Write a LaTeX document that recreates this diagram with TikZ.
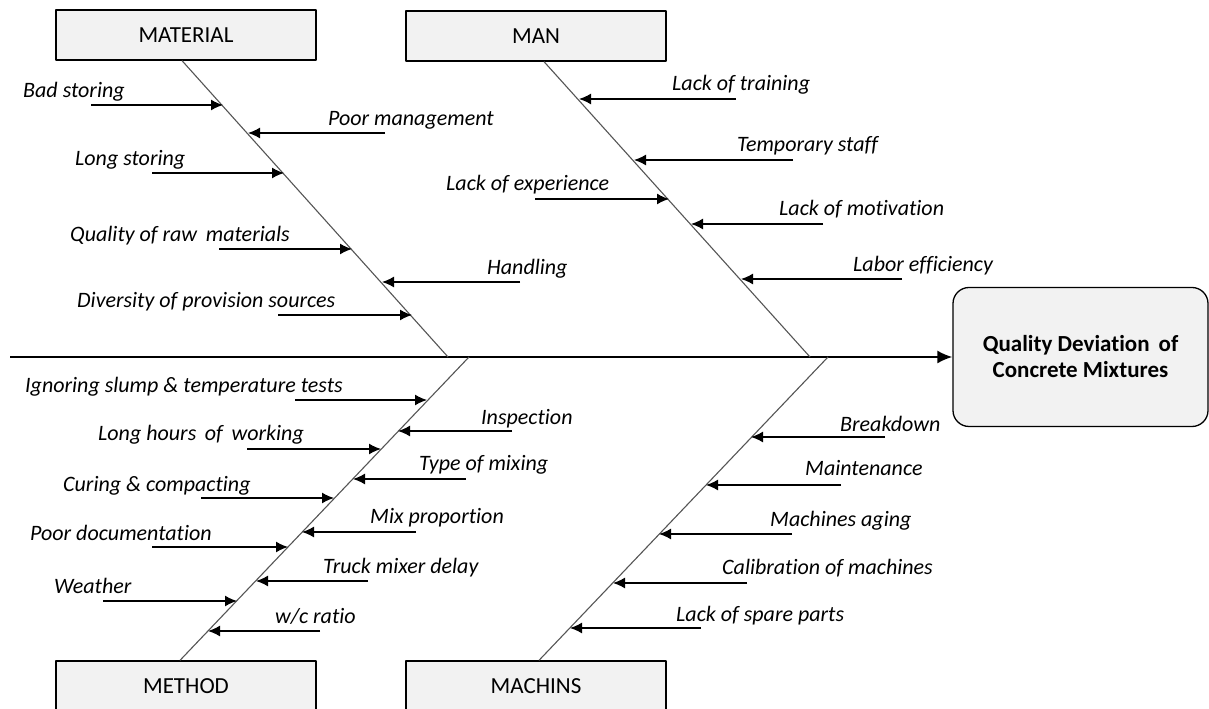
\documentclass[tikz,border=0pt]{standalone}
\usepackage[x11names, svgnames, rgb]{xcolor}
\usepackage{fontspec}
\setmainfont{Carlito}[Ligatures=NoCommon]
\usepackage{tikz}
\usetikzlibrary{arrows.meta,shapes}
\definecolor{boxgray}{RGB}{242,242,242}
\definecolor{bonegray}{RGB}{85,85,85}

\begin{document}
\begin{tikzpicture}[>={Latex[length=12bp,width=11bp]},line join=bevel,
  cat/.style={draw,fill=boxgray,line width=1.3bp,minimum width=260bp,minimum height=50bp,
    font=\fontsize{23bp}{27bp}\selectfont},
  cause/.style={anchor=base west,inner sep=0pt,font=\fontsize{22bp}{26bp}\selectfont\itshape},
  rib/.style={->,line width=1.4bp},
  bone/.style={bonegray,line width=1.1bp}]
\useasboundingbox (0bp,0bp) rectangle (1209bp,709bp);
%%
\node (material) at (186bp,674bp) [cat] {MATERIAL};
  \node (man) at (536bp,673bp) [cat] {MAN};
  \node (method) at (186bp,23bp) [cat] {METHOD};
  \node (machins) at (536bp,23bp) [cat] {MACHINS};
  \node (effect) at (1080.5bp,352bp) [draw,fill=boxgray,line width=1.3bp,rounded corners=16bp,
    minimum width=255bp,minimum height=139bp,align=center,
    font=\fontsize{23bp}{26bp}\selectfont\bfseries] {Quality Deviation\, of\\Concrete Mixtures};
  \coordinate (tail) at (10bp,352bp);
  \coordinate (matJ) at (448bp,352bp);
  \coordinate (manJ) at (810bp,352bp);
  \coordinate (metJ) at (469bp,352bp);
  \coordinate (macJ) at (828bp,352bp);
  \draw [-{Latex[length=15bp,width=13bp]},line width=1.8bp] (tail) -- (effect);
  \draw [bone] ([xshift=-4bp]material.south) -- (matJ);
  \draw [bone] ([xshift=8bp]man.south) -- (manJ);
  \draw [bone] ([xshift=-6bp]method.north) -- (metJ);
  \draw [bone] ([xshift=3bp]machins.north) -- (macJ);
%% material
  \coordinate (badStoring) at (91bp,604bp); \coordinate (badStoringT) at (223bp,604bp);
  \coordinate (poorMgmt) at (385bp,576bp); \coordinate (poorMgmtT) at (248bp,576bp);
  \coordinate (longStoring) at (152bp,536bp); \coordinate (longStoringT) at (284bp,536bp);
  \coordinate (rawQuality) at (219bp,460bp); \coordinate (rawQualityT) at (352bp,460bp);
  \coordinate (handling) at (520bp,427bp); \coordinate (handlingT) at (382bp,427bp);
  \coordinate (diversity) at (278bp,394bp); \coordinate (diversityT) at (412bp,394bp);
  \draw [rib] (badStoring) -- (badStoringT);
  \draw [rib] (poorMgmt) -- (poorMgmtT);
  \draw [rib] (longStoring) -- (longStoringT);
  \draw [rib] (rawQuality) -- (rawQualityT);
  \draw [rib] (handling) -- (handlingT);
  \draw [rib] (diversity) -- (diversityT);
  \node (badStoringL) at (23bp,611bp) [cause] {Bad storing};
  \node (poorMgmtL) at (328bp,583bp) [cause] {Poor management};
  \node (longStoringL) at (75bp,543bp) [cause] {Long storing};
  \node (rawQualityL) at (70bp,467bp) [cause] {Quality of raw\, materials};
  \node (handlingL) at (487bp,434bp) [cause] {Handling};
  \node (diversityL) at (77bp,401bp) [cause] {Diversity of provision sources};
%% man
  \coordinate (training) at (736bp,610bp); \coordinate (trainingT) at (579bp,610bp);
  \coordinate (tempStaff) at (793bp,549bp); \coordinate (tempStaffT) at (634bp,549bp);
  \coordinate (experience) at (535bp,510bp); \coordinate (experienceT) at (669bp,510bp);
  \coordinate (motivation) at (823bp,485bp); \coordinate (motivationT) at (691bp,485bp);
  \coordinate (laborEff) at (902bp,430bp); \coordinate (laborEffT) at (741bp,430bp);
  \draw [rib] (training) -- (trainingT);
  \draw [rib] (tempStaff) -- (tempStaffT);
  \draw [rib] (experience) -- (experienceT);
  \draw [rib] (motivation) -- (motivationT);
  \draw [rib] (laborEff) -- (laborEffT);
  \node (trainingL) at (672bp,618bp) [cause] {Lack of training};
  \node (tempStaffL) at (737bp,557bp) [cause] {Temporary staff};
  \node (experienceL) at (446bp,518bp) [cause] {Lack of experience};
  \node (motivationL) at (779bp,493bp) [cause] {Lack of motivation};
  \node (laborEffL) at (853bp,437bp) [cause] {Labor efficiency};
%% method
  \coordinate (slumpTests) at (295bp,309bp); \coordinate (slumpTestsT) at (427bp,309bp);
  \coordinate (inspection) at (512bp,278bp); \coordinate (inspectionT) at (398bp,278bp);
  \coordinate (longHours) at (247bp,260bp); \coordinate (longHoursT) at (381bp,260bp);
  \coordinate (mixingType) at (466bp,230bp); \coordinate (mixingTypeT) at (353bp,230bp);
  \coordinate (curing) at (201bp,211bp); \coordinate (curingT) at (334bp,211bp);
  \coordinate (mixProp) at (416bp,177bp); \coordinate (mixPropT) at (302bp,177bp);
  \coordinate (poorDoc) at (152bp,162bp); \coordinate (poorDocT) at (288bp,162bp);
  \coordinate (truckDelay) at (368bp,128bp); \coordinate (truckDelayT) at (256bp,128bp);
  \coordinate (weather) at (103bp,108bp); \coordinate (weatherT) at (237bp,108bp);
  \coordinate (wcRatio) at (320bp,78bp); \coordinate (wcRatioT) at (208bp,78bp);
  \draw [rib] (slumpTests) -- (slumpTestsT);
  \draw [rib] (inspection) -- (inspectionT);
  \draw [rib] (longHours) -- (longHoursT);
  \draw [rib] (mixingType) -- (mixingTypeT);
  \draw [rib] (curing) -- (curingT);
  \draw [rib] (mixProp) -- (mixPropT);
  \draw [rib] (poorDoc) -- (poorDocT);
  \draw [rib] (truckDelay) -- (truckDelayT);
  \draw [rib] (weather) -- (weatherT);
  \draw [rib] (wcRatio) -- (wcRatioT);
  \node (slumpTestsL) at (25bp,316bp) [cause] {Ignoring slump \& temperature tests};
  \node (inspectionL) at (481bp,284bp) [cause] {Inspection};
  \node (longHoursL) at (98bp,268bp) [cause] {Long hours\, of\, working};
  \node (mixingTypeL) at (419bp,238bp) [cause] {Type of mixing};
  \node (curingL) at (63bp,217bp) [cause] {Curing \& compacting};
  \node (mixPropL) at (370bp,185bp) [cause] {Mix proportion};
  \node (poorDocL) at (30bp,168bp) [cause] {Poor documentation};
  \node (truckDelayL) at (323bp,135bp) [cause] {Truck mixer delay};
  \node (weatherL) at (54bp,115bp) [cause] {Weather};
  \node (wcRatioL) at (275bp,85bp) [cause] {w/c ratio};
%% machins
  \coordinate (breakdown) at (885bp,272bp); \coordinate (breakdownT) at (751bp,272bp);
  \coordinate (maintenance) at (841bp,224bp); \coordinate (maintenanceT) at (706bp,224bp);
  \coordinate (aging) at (792bp,175bp); \coordinate (agingT) at (659bp,175bp);
  \coordinate (calibration) at (747bp,126bp); \coordinate (calibrationT) at (613bp,126bp);
  \coordinate (spareParts) at (701bp,81bp); \coordinate (sparePartsT) at (570bp,81bp);
  \draw [rib] (breakdown) -- (breakdownT);
  \draw [rib] (maintenance) -- (maintenanceT);
  \draw [rib] (aging) -- (agingT);
  \draw [rib] (calibration) -- (calibrationT);
  \draw [rib] (spareParts) -- (sparePartsT);
  \node (breakdownL) at (840bp,277bp) [cause] {Breakdown};
  \node (maintenanceL) at (805bp,233bp) [cause] {Maintenance};
  \node (agingL) at (770bp,182bp) [cause] {Machines aging};
  \node (calibrationL) at (722bp,134bp) [cause] {Calibration of machines};
  \node (sparePartsL) at (676bp,87bp) [cause] {Lack of spare parts};
%
\end{tikzpicture}
\end{document}
